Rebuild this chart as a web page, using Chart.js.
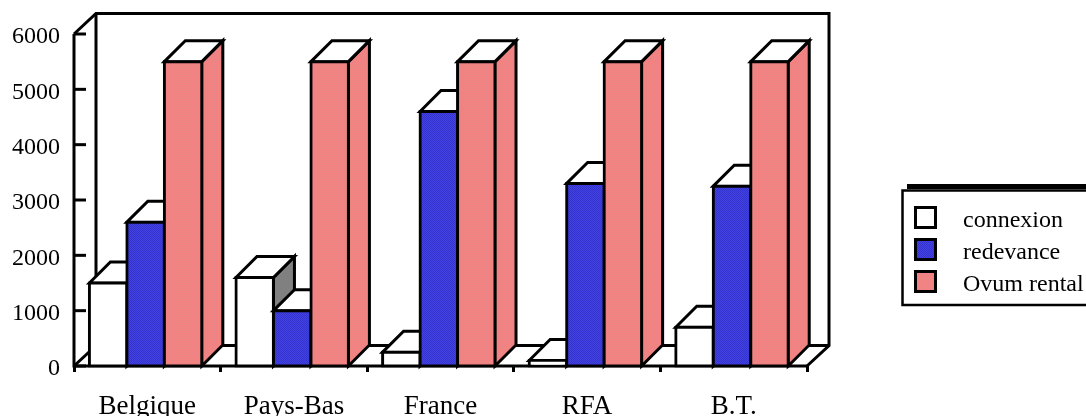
<!DOCTYPE html>
<html>
<head>
<meta charset="utf-8">
<style>
  html, body { margin: 0; padding: 0; background: #fff; overflow: hidden; }
  canvas { display: block; }
</style>
<script src="https://cdn.jsdelivr.net/npm/chart.js@4/dist/chart.umd.js"></script>
</head>
<body>
<canvas id="chart" width="1086" height="416"></canvas>
<script>
const categories = ['Belgique', 'Pays-Bas', 'France', 'RFA', 'B.T.'];
const connexion = [1500, 1600, 250, 100, 700];
const redevance = [2600, 1000, 4600, 3300, 3250];
const ovumRental = [5500, 5500, 5500, 5500, 5500];
const yTicks = [0, 1000, 2000, 3000, 4000, 5000, 6000];

const FONT = '"Liberation Serif", "Times New Roman", serif';
const DEPTH = 21;
const BAR_SHIFT = -1.7;
const LINE = 3;

// the original fills are fine two-colour dithers
function dither(a, b) {
  const c = document.createElement('canvas');
  c.width = c.height = 2;
  const g = c.getContext('2d');
  g.fillStyle = a;
  g.fillRect(0, 0, 2, 2);
  g.fillStyle = b;
  g.fillRect(0, 0, 1, 1);
  g.fillRect(1, 1, 1, 1);
  return g.createPattern(c, 'repeat');
}
const BLUE = dither('#4242e4', '#3434cc');
const RED = dither('#f28080', '#ee8686');

function path(ctx, pts, fill) {
  ctx.beginPath();
  pts.forEach(([x, y], i) => (i ? ctx.lineTo(x, y) : ctx.moveTo(x, y)));
  if (fill) {
    ctx.closePath();
    ctx.fillStyle = fill;
    ctx.fill();
  }
  ctx.stroke();
}

const box3d = {
  id: 'box3d',
  afterDatasetsUpdate(chart) {
    chart.data.datasets.forEach((ds, i) => {
      chart.getDatasetMeta(i).data.forEach((bar) => { bar.x += BAR_SHIFT; });
    });
  },
  beforeDatasetsDraw(chart) {
    // walls behind the bars
    const { ctx, chartArea: a, scales: { y } } = chart;
    const base = y.getPixelForValue(0);
    const top = y.getPixelForValue(6000);
    const dx = 22, dy = 20.5;
    ctx.save();
    ctx.strokeStyle = '#000';
    ctx.lineWidth = LINE;
    path(ctx, [[a.left, top], [a.left + dx, top - dy], [a.right + dx, top - dy], [a.right + dx, base - dy], [a.right, base]]);
    path(ctx, [[a.left + dx, top - dy], [a.left + dx, base - dy], [a.left, base]]);
    path(ctx, [[a.left + dx, base - dy], [a.right + dx, base - dy]]);
    path(ctx, [[a.left, top], [a.left, base], [a.right, base]]);
    yTicks.forEach((v) => {
      path(ctx, [[a.left, y.getPixelForValue(v)], [a.left + 12, y.getPixelForValue(v)]]);
    });
    ctx.restore();
  },
  beforeDatasetDraw() {
    return false;
  },
  afterDatasetsDraw(chart) {
    // painter's order, left to right, so neighbours hide each other properly
    const { ctx, scales: { y } } = chart;
    ctx.save();
    ctx.strokeStyle = '#000';
    ctx.lineWidth = LINE;
    ctx.lineJoin = 'miter';
    categories.forEach((c, idx) => {
      chart.data.datasets.forEach((ds, i) => {
        const bar = chart.getDatasetMeta(i).data[idx];
        const l = bar.x - bar.width / 2;
        const r = bar.x + bar.width / 2;
        path(ctx, [[r, bar.base], [r + DEPTH, bar.base - DEPTH], [r + DEPTH, bar.y - DEPTH], [r, bar.y]], ds.sideColor);
        path(ctx, [[l, bar.y], [l + DEPTH, bar.y - DEPTH], [r + DEPTH, bar.y - DEPTH], [r, bar.y]], '#fff');
        bar.draw(ctx);
      });
    });

    // y labels sit a little under their ticks in the original
    ctx.fillStyle = '#000';
    ctx.font = '24px ' + FONT;
    ctx.textAlign = 'right';
    ctx.textBaseline = 'middle';
    yTicks.forEach((v) => ctx.fillText(String(v), 60, y.getPixelForValue(v) + 3));
    ctx.restore();
  },
  afterDraw(chart) {
    const { ctx } = chart;
    ctx.save();
    ctx.strokeStyle = '#000';
    ctx.lineWidth = 5;
    path(ctx, [[907, 186.5], [1090, 186.5]]);
    ctx.lineWidth = 2.5;
    path(ctx, [[1090, 190.5], [902.5, 190.5], [902.5, 305], [1090, 305]]);
    ctx.font = '24px ' + FONT;
    ctx.textBaseline = 'middle';
    ctx.textAlign = 'left';
    chart.data.datasets.forEach((ds, i) => {
      const top = 207 + i * 32;
      ctx.lineWidth = 3;
      ctx.fillStyle = ds.backgroundColor;
      ctx.fillRect(915.5, top + 0.5, 20, 20);
      ctx.strokeRect(915.5, top + 0.5, 20, 20);
      ctx.fillStyle = '#000';
      ctx.fillText(ds.label, 963, top + 14);
    });
    ctx.restore();
  },
};

const barStyle = {
  borderColor: '#000',
  borderWidth: LINE,
  borderSkipped: false,
  inflateAmount: LINE / 2,
  barPercentage: 1,
  categoryPercentage: 0.767,
};

new Chart(document.getElementById('chart'), {
  type: 'bar',
  data: {
    labels: categories,
    datasets: [
      { label: 'connexion', data: connexion, backgroundColor: '#ffffff', sideColor: '#808080', ...barStyle },
      { label: 'redevance', data: redevance, backgroundColor: BLUE, sideColor: BLUE, ...barStyle },
      { label: 'Ovum rental', data: ovumRental, backgroundColor: RED, sideColor: RED, ...barStyle },
    ],
  },
  options: {
    responsive: false,
    animation: false,
    events: [],
    layout: { padding: { left: 0, right: 279, top: 34, bottom: 0 } },
    plugins: { legend: { display: false }, tooltip: { enabled: false } },
    scales: {
      x: {
        afterFit(scale) { scale.height = 50; },
        border: { display: false },
        grid: { offset: true, drawOnChartArea: false, color: '#000', lineWidth: LINE, tickLength: 6 },
        ticks: { color: '#000', padding: 19, maxRotation: 0, font: { family: FONT, size: 27 } },
      },
      y: {
        min: 0,
        max: 6000,
        afterFit(scale) { scale.width = 74; },
        border: { display: false },
        grid: { display: false },
        ticks: { display: false, stepSize: 1000 },
      },
    },
  },
  plugins: [box3d],
});
</script>
</body>
</html>
